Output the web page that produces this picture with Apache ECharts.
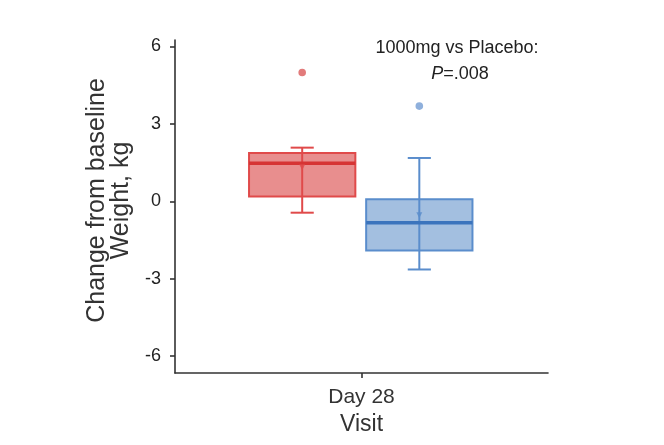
<!DOCTYPE html>
<html><head><meta charset="utf-8">
<script src="https://cdn.jsdelivr.net/npm/echarts@6/dist/echarts.min.js"></script>
<style>html,body{margin:0;padding:0;background:#fff}#c{width:664px;height:445px}</style>
</head><body><div id="c"></div>
<script>
// ---- data ----
const categories = ['Day 28'];
const groups = ['1000mg', 'Placebo'];
const whiskerLow = [-0.44, -2.64];
const q1 = [0.19, -1.90];
const median = [1.48, -0.83];
const q3 = [1.87, 0.08];
const whiskerHigh = [2.08, 1.68];
const means = [1.32, -0.54];
const outliers = [4.99, 3.69];
const yTicks = [-6, -3, 0, 3, 6];
const annotation = ['1000mg vs Placebo:', 'P', '=.008'];

// ---- styles ----
const offsets = [-0.159, 0.155];
const boxFrac = 0.285, capFrac = 0.062;
const fills = ['rgba(226,110,110,0.78)', 'rgba(120,160,210,0.68)'];
const borders = ['#e04a4a', '#5a8dcc'];
const medians = ['#d63434', '#3b74bd'];
const outlierFill = ['#e27b7b', '#8fb0dc'];

const data = groups.map((g, i) => [0, whiskerLow[i], q1[i], median[i], q3[i], whiskerHigh[i], means[i], outliers[i], i]);

const chart = echarts.init(document.getElementById('c'));
chart.setOption({
  animation: false,
  title: [
    {text: annotation[0], left: 452, top: 34, textAlign: 'center',
     textStyle: {fontFamily: 'Liberation Sans', fontSize: 18, fontWeight: 'normal', color: '#222'}},
    {text: '{i|' + annotation[1] + '}' + annotation[2], left: 455, top: 60, textAlign: 'center',
     textStyle: {fontFamily: 'Liberation Sans', fontSize: 18, fontWeight: 'normal', color: '#222',
       rich: {i: {fontStyle: 'italic', fontFamily: 'Liberation Sans', fontSize: 18, color: '#222'}}}}
  ],
  grid: {left: 175, right: 116, top: 40, bottom: 72},
  xAxis: {
    type: 'category', data: categories,
    name: 'Visit', nameLocation: 'middle', nameGap: 40,
    nameTextStyle: {fontFamily: 'Liberation Sans', fontSize: 23, color: '#333'},
    axisLine: {onZero: false, lineStyle: {color: '#333', width: 1.6}},
    axisTick: {show: true, alignWithLabel: true, interval: 0, customValues: [0], length: 5, lineStyle: {color: '#333', width: 1.6}},
    axisLabel: {fontFamily: 'Liberation Sans', fontSize: 21, color: '#333', margin: 14},
    splitLine: {show: false}
  },
  yAxis: {
    type: 'value', min: -6.65, max: 6.25,
    name: 'Change from baseline\nWeight, kg', nameLocation: 'middle', nameGap: 34, nameRotate: 90,
    nameTextStyle: {fontFamily: 'Liberation Sans', fontSize: 25, lineHeight: 24, color: '#333', padding: [0, 0, 0, 12]},
    axisLine: {show: true, lineStyle: {color: '#333', width: 1.6}},
    axisTick: {show: true, length: 5, customValues: yTicks, lineStyle: {color: '#333', width: 1.6}},
    axisLabel: {customValues: yTicks, fontFamily: 'Liberation Sans', fontSize: 18, color: '#222', margin: 14},
    splitLine: {show: false}
  },
  series: [{
    type: 'custom',
    data: data,
    encode: {x: 0, y: [1, 5, 7]},
    renderItem: function (params, api) {
      const gi = api.value(8);
      const bw = api.size([1, 0])[0];
      const cx = api.coord([api.value(0), 0])[0] + offsets[gi] * bw;
      const half = boxFrac * bw / 2, cap = capFrac * bw / 2;
      const y = v => api.coord([0, v])[1];
      const yLo = y(api.value(1)), yQ1 = y(api.value(2)), yMed = y(api.value(3)),
            yQ3 = y(api.value(4)), yHi = y(api.value(5)), yMean = y(api.value(6)), yOut = y(api.value(7));
      const ls = {stroke: borders[gi], lineWidth: 2};
      const m = 3;
      return {type: 'group', children: [
        {type: 'rect', shape: {x: cx - half, y: yQ3, width: 2 * half, height: yQ1 - yQ3},
         style: {fill: fills[gi], stroke: null}},
        {type: 'line', shape: {x1: cx, y1: yHi, x2: cx, y2: yLo}, style: ls},
        {type: 'line', shape: {x1: cx - cap, y1: yHi, x2: cx + cap, y2: yHi}, style: ls},
        {type: 'line', shape: {x1: cx - cap, y1: yLo, x2: cx + cap, y2: yLo}, style: ls},
        {type: 'rect', shape: {x: cx - half, y: yQ3, width: 2 * half, height: yQ1 - yQ3},
         style: {fill: null, stroke: borders[gi], lineWidth: 2}},
        {type: 'line', shape: {x1: cx - half, y1: yMed, x2: cx + half, y2: yMed},
         style: {stroke: medians[gi], lineWidth: 3.5}},
        {type: 'polygon', shape: {points: [[cx - m, yMean - m], [cx + m, yMean - m], [cx, yMean + m]]},
         style: {fill: borders[gi], opacity: 0.8}},
        {type: 'circle', shape: {cx: cx, cy: yOut, r: 3.8}, style: {fill: outlierFill[gi]}}
      ]};
    }
  }]
});
</script></body></html>
